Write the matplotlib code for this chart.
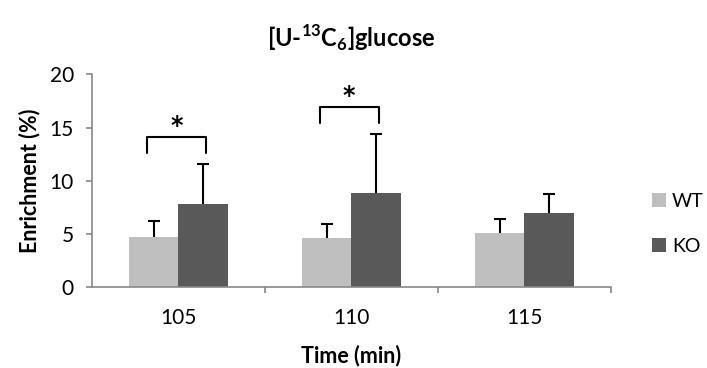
import numpy as np
import matplotlib.pyplot as plt

plt.rcParams['font.family'] = ['Lato', 'DejaVu Sans']
plt.rcParams['mathtext.fontset'] = 'custom'
plt.rcParams['mathtext.bf'] = 'Lato:bold'
plt.rcParams['mathtext.rm'] = 'Lato:bold'

times = ['105', '110', '115']
wt = [4.7, 4.6, 5.08]
wt_err = [1.48, 1.33, 1.35]
ko = [7.8, 8.87, 6.99]
ko_err = [3.74, 5.53, 1.76]
# significance brackets: (category index, bracket top, star)
sig = [(0, 14.1, '*'), (1, 16.9, '*')]

fig = plt.figure(figsize=(7.07, 3.68), dpi=100)
ax = fig.add_axes([0.130, 0.220, 0.734, 0.578])

x = np.arange(len(times))
w = 0.285
ax.bar(x - w / 2, wt, w, color='#bfbfbf', label='WT', zorder=2)
ax.bar(x + w / 2, ko, w, color='#595959', label='KO', zorder=2)

# upward-only error bars
for xs, ys, es in [(x - w / 2, wt, wt_err), (x + w / 2, ko, ko_err)]:
    tops = np.array(ys) + np.array(es)
    ax.vlines(xs, ys, tops, color='black', lw=1.5, zorder=3)
    ax.plot(xs, tops, ls='none', marker='_', markersize=9, mew=1.5,
            color='black', zorder=3)

for i, h, s in sig:
    x0, x1 = i - 0.184, i + 0.159
    ax.plot([x0, x0, x1, x1], [h - 1.45, h, h, h - 1.45], color='black', lw=1.5,
            solid_joinstyle='round', solid_capstyle='round')
    ax.text((x0 + x1) / 2, h + 1.05, s, ha='center', va='center', fontsize=17,
            fontweight='bold', family='DejaVu Sans')

ax.set_xlim(-0.5, 2.5)
ax.set_ylim(0, 20)
ax.set_yticks([0, 5, 10, 15, 20])
ax.set_xticks(x)
ax.set_xticklabels(times)
ax.set_xticks([0.5, 1.5, 2.5], minor=True)
ax.tick_params(axis='x', which='major', length=0, labelsize=15, pad=15)
ax.tick_params(axis='x', which='minor', length=4, color='#888888', width=1.2)
ax.tick_params(axis='y', length=4, color='#888888', width=1.2, labelsize=15, pad=9)
for sp in ['top', 'right']:
    ax.spines[sp].set_visible(False)
for sp in ['bottom', 'left']:
    ax.spines[sp].set_color('#888888')
    ax.spines[sp].set_linewidth(1.2)

ax.set_ylabel('Enrichment (%)', fontsize=15.5, fontweight='bold', labelpad=7)
ax.set_xlabel('Time (min)', fontsize=15.5, fontweight='bold', labelpad=12)
ax.set_title(r'[U-$^{\mathbf{13}}$C$_{\mathbf{6}}$]glucose', fontsize=17,
             fontweight='bold', pad=20)

fig.legend(*ax.get_legend_handles_labels(), loc='center left',
           bbox_to_anchor=(652 / 707, 1 - 224 / 368), frameon=False,
           fontsize=14, handlelength=0.72, handleheight=0.72, labelspacing=1.45,
           handletextpad=0.3, borderpad=0, borderaxespad=0)

fig.savefig('out.png', dpi=100)
